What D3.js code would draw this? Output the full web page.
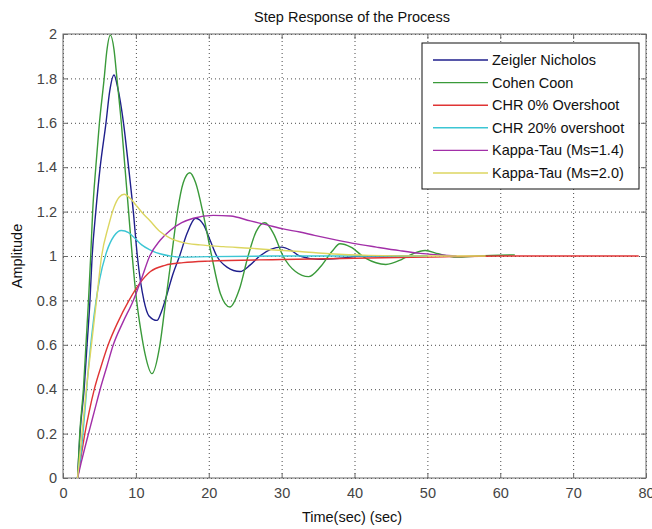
<!DOCTYPE html>
<html>
<head>
<meta charset="utf-8">
<script src="https://cdnjs.cloudflare.com/ajax/libs/d3/7.8.5/d3.min.js"></script>
<style>
  body { margin: 0; background: #fff; }
  svg { font-family: "Liberation Sans", Arial, sans-serif; }
</style>
</head>
<body>
<div id="chart"></div>
<script>
// Tick values
var xTicks = [0, 10, 20, 30, 40, 50, 60, 70, 80];
var yTicks = [0, 0.2, 0.4, 0.6, 0.8, 1, 1.2, 1.4, 1.6, 1.8, 2];

// Series names
var seriesNames = ["Zeigler Nicholos", "Cohen Coon", "CHR 0% Overshoot",
  "CHR 20% overshoot", "Kappa-Tau (Ms=1.4)", "Kappa-Tau (Ms=2.0)"];

// [time, amplitude]
var zieglerNichols = [[2,0],[2.33,0.2],[2.9,0.4],[3.3,0.6],[3.7,0.8],[4.0,1.0],[4.5,1.2],[5.1,1.4],
  [5.9,1.6],[6.4,1.74],[7.0,1.815],[7.5,1.76],[8.3,1.6],[9.0,1.4],[9.65,1.2],[10.2,1.0],[11.1,0.8],
  [11.8,0.73],[12.9,0.71],[13.4,0.74],[14.2,0.82],[15.1,0.92],[16.0,1.0],[17.0,1.1],[18.2,1.17],
  [19.3,1.14],[20.2,1.07],[21.1,1.0],[22.5,0.95],[24.3,0.93],[25.7,0.96],[27.0,1.0],[28.5,1.03],
  [30.0,1.04],[31.3,1.025],[32.5,1.0],[35,0.985],[38,0.99],[41,1.0],[45,1.0],[50,1.0]];

var cohenCoon = [[2,0],[2.3,0.2],[2.8,0.4],[3.15,0.6],[3.5,0.8],[3.8,1.0],[4.07,1.2],[4.5,1.4],
  [5.0,1.6],[5.65,1.8],[6.0,1.92],[6.5,1.995],[7.0,1.93],[7.4,1.8],[8.0,1.6],[8.5,1.4],[9.0,1.2],
  [9.5,1.0],[10.1,0.8],[10.7,0.66],[11.25,0.56],[12.2,0.47],[13.3,0.6],[14.1,0.8],[14.9,1.0],
  [15.7,1.2],[16.5,1.33],[17.4,1.375],[18.2,1.33],[19.3,1.18],[20.4,1.0],[21.6,0.83],[22.9,0.77],
  [24.2,0.85],[25.4,1.0],[26.5,1.11],[27.7,1.15],[28.9,1.1],[30.2,1.0],[31.9,0.93],[33.7,0.907],
  [35.3,0.95],[36.9,1.02],[38,1.055],[39.5,1.04],[41.5,0.99],[44.3,0.962],[46.5,0.985],[48,1.01],
  [49.7,1.025],[51.5,1.01],[54,0.995],[57,1.0],[62,1.005]];

var chr0 = [[2,0],[2.4,0.08],[3.0,0.2],[3.6,0.3],[4.3,0.4],[5.2,0.5],[6.2,0.6],[7.5,0.7],[9.06,0.8],
  [10.6,0.88],[12,0.93],[14,0.958],[16.5,0.97],[20,0.977],[30,0.984],[40,0.99],[50,0.995],[60,1.0],
  [79,1.0]];

var chr20 = [[2,0],[2.5,0.12],[3,0.3],[3.5,0.5],[4,0.66],[4.5,0.79],[5,0.89],[6,1.02],[7,1.09],
  [8,1.115],[9,1.105],[10,1.075],[10.8,1.05],[12,1.027],[13.3,1.01],[14.7,1.0],[16,0.995],
  [20,0.997],[30,1.0],[50,1.0]];

var kappa14 = [[2,0],[2.5,0.07],[3.5,0.2],[4.3,0.3],[5.1,0.4],[6.0,0.5],[6.9,0.6],[8.2,0.7],
  [9.65,0.8],[10.8,0.9],[11.9,1.0],[13.3,1.07],[14.7,1.115],[16.3,1.15],[17.9,1.17],[20.6,1.183],
  [23,1.18],[25.7,1.158],[28,1.14],[30.2,1.122],[32.5,1.108],[34.5,1.093],[36.6,1.078],
  [39.8,1.057],[43,1.04],[46.2,1.024],[49,1.012],[51.7,1.005],[54,1.0]];

var kappa20 = [[2,0],[2.6,0.2],[3.2,0.4],[3.9,0.6],[4.6,0.8],[5.3,1.0],[6.2,1.13],[7.0,1.22],
  [7.7,1.265],[8.4,1.278],[9.2,1.26],[10,1.23],[11,1.19],[11.9,1.16],[13.3,1.11],[14.7,1.08],
  [16.5,1.06],[18.8,1.05],[22,1.042],[25.7,1.035],[29,1.027],[32.5,1.02],[36.6,1.01],[42,1.003],
  [50,1.0],[58,1.0]];

var seriesData = [zieglerNichols, cohenCoon, chr0, chr20, kappa14, kappa20];
var seriesColors = ["#1f1f8c", "#3a9a3a", "#e03434", "#3cc6d4", "#a22fa8", "#dcd660"];

// SVG Information
var svgWidth = 652;
var svgHeight = 529;

var margin = { top: 34, right: 6, bottom: 51, left: 63 };
var width = svgWidth - margin.left - margin.right;
var height = svgHeight - margin.top - margin.bottom;

var svg = d3.select("#chart")
  .append("svg")
  .attr("width", svgWidth)
  .attr("height", svgHeight);

svg.append("rect")
  .attr("width", svgWidth)
  .attr("height", svgHeight)
  .attr("fill", "#fff");

var chartGroup = svg.append("g")
  .attr("transform", `translate(${margin.left}, ${margin.top})`);

// Scales
var xScale = d3.scaleLinear().domain([0, 80]).range([0, width]);
var yScale = d3.scaleLinear().domain([0, 2]).range([height, 0]);

// Dotted grid
chartGroup.append("g")
  .attr("class", "grid")
  .attr("transform", `translate(0, ${height})`)
  .call(d3.axisBottom(xScale).tickValues(xTicks).tickSize(-height).tickFormat(""));

chartGroup.append("g")
  .attr("class", "grid")
  .call(d3.axisLeft(yScale).tickValues(yTicks).tickSize(-width).tickFormat(""));

chartGroup.selectAll(".grid .domain").remove();
chartGroup.selectAll(".grid line")
  .attr("stroke", "#4a4a4a")
  .attr("stroke-width", 1)
  .attr("stroke-dasharray", "1,3");

// Axes with inward ticks on all four sides
var bottomAxis = d3.axisBottom(xScale).tickValues(xTicks).tickSize(-5).tickPadding(10)
  .tickFormat(d3.format("~g"));
var leftAxis = d3.axisLeft(yScale).tickValues(yTicks).tickSize(-5).tickPadding(6)
  .tickFormat(d3.format("~g"));

chartGroup.append("g")
  .attr("class", "axis")
  .attr("transform", `translate(0, ${height})`)
  .call(bottomAxis);

chartGroup.append("g")
  .attr("class", "axis")
  .call(leftAxis);

chartGroup.append("g")
  .attr("class", "axis")
  .call(d3.axisTop(xScale).tickValues(xTicks).tickSize(-5).tickFormat(""));

chartGroup.append("g")
  .attr("class", "axis")
  .attr("transform", `translate(${width}, 0)`)
  .call(d3.axisRight(yScale).tickValues(yTicks).tickSize(-5).tickFormat(""));

chartGroup.selectAll(".axis .domain").remove();
chartGroup.selectAll(".axis line").attr("stroke", "#6a6a6a");
chartGroup.selectAll(".axis text")
  .attr("fill", "#444")
  .style("font-size", "14.5px");

chartGroup.append("rect")
  .attr("width", width)
  .attr("height", height)
  .attr("fill", "none")
  .attr("stroke", "#6a6a6a")
  .attr("stroke-width", 1);

// Response curves
var line = d3.line()
  .x(d => xScale(d[0]))
  .y(d => yScale(d[1]))
  .curve(d3.curveMonotoneX);

chartGroup.selectAll(".series")
  .data(seriesData)
  .enter()
  .append("path")
  .attr("class", "series")
  .attr("d", line)
  .attr("fill", "none")
  .attr("stroke", (d, i) => seriesColors[i])
  .attr("stroke-width", 1.4);

// Title and labels
svg.append("text")
  .attr("x", 352)
  .attr("y", 22)
  .attr("text-anchor", "middle")
  .style("font-size", "14.5px")
  .attr("fill", "#111")
  .text("Step Response of the Process");

svg.append("text")
  .attr("x", 352)
  .attr("y", 522)
  .attr("text-anchor", "middle")
  .style("font-size", "14.5px")
  .attr("fill", "#111")
  .text("Time(sec) (sec)");

svg.append("text")
  .attr("transform", "translate(22, 256) rotate(-90)")
  .attr("text-anchor", "middle")
  .style("font-size", "14.5px")
  .attr("fill", "#111")
  .text("Amplitude");

// Legend
var legend = svg.append("g")
  .attr("transform", "translate(422, 43)");

legend.append("rect")
  .attr("width", 217)
  .attr("height", 146)
  .attr("fill", "#fff")
  .attr("stroke", "#111")
  .attr("stroke-width", 1);

var legendRows = legend.selectAll(".legend-row")
  .data(seriesNames)
  .enter()
  .append("g")
  .attr("class", "legend-row")
  .attr("transform", (d, i) => `translate(0, ${17 + i * 22.6})`);

legendRows.append("line")
  .attr("x1", 11)
  .attr("x2", 66)
  .attr("stroke", (d, i) => seriesColors[i])
  .attr("stroke-width", 1.4);

legendRows.append("text")
  .attr("x", 70)
  .attr("y", 5)
  .style("font-size", "14.5px")
  .attr("fill", "#111")
  .text(d => d);
</script>
</body>
</html>
